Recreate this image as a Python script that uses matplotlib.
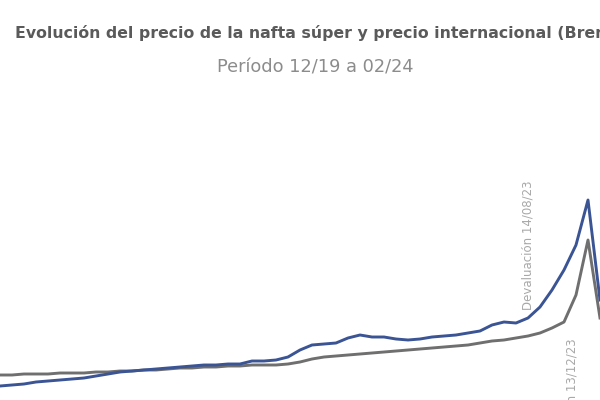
import matplotlib
matplotlib.use("Agg")
import matplotlib.pyplot as plt

# meses 12/19 .. 02/24
meses = list(range(51))

# nafta super (azul) y Brent (gris), misma escala
nafta = [48, 52, 56, 64, 68, 72, 76, 80, 88, 96, 104, 108, 112, 116, 120, 124,
         128, 132, 132, 136, 136, 148, 148, 152, 164, 192, 212, 216, 220, 240,
         252, 244, 244, 236, 232, 236, 244, 248, 252, 260, 268, 292, 304, 300,
         320, 364, 432, 512, 612, 792, 392]
brent = [92, 92, 96, 96, 96, 100, 100, 100, 104, 104, 108, 108, 112, 112, 116,
         120, 120, 124, 124, 128, 128, 132, 132, 132, 136, 144, 156, 164, 168,
         172, 176, 180, 184, 188, 192, 196, 200, 204, 208, 212, 220, 228, 232,
         240, 248, 260, 280, 304, 412, 632, 320]

titulo = "Evolución del precio de la nafta súper y precio internacional (Brent)"
subtitulo = "Período 12/19 a 02/24"

fig = plt.figure(figsize=(6, 4), dpi=100)
ax = fig.add_axes([0, 0, 1, 1])
ax.plot(meses, brent, color="#6f6f6f", lw=2.1, solid_joinstyle="round")
ax.plot(meses, nafta, color="#3a5494", lw=2.1, solid_joinstyle="round")
ax.set_xlim(0, 50)
ax.set_ylim(-8, 1592)
ax.axis("off")

ax.annotate("Devaluación 14/08/23", (44, nafta[44]), xytext=(0, 6),
            textcoords="offset points", rotation=90, ha="center", va="bottom",
            fontsize=8.5, color="#a8a8a8")
ax.annotate("Devaluación 13/12/23", (47.7, brent[47]), xytext=(0, -12),
            textcoords="offset points", rotation=90, ha="center", va="top",
            fontsize=8.5, color="#a8a8a8")

fig.text(15 / 600, 1 - 33 / 400, titulo, ha="left", va="center",
         fontsize=11.3, fontweight="bold", color="#5a5a5a")
fig.text(315 / 600, 1 - 67 / 400, subtitulo, ha="center", va="center",
         fontsize=12.8, color="#8c8c8c")

fig.savefig("out.png", dpi=100)
